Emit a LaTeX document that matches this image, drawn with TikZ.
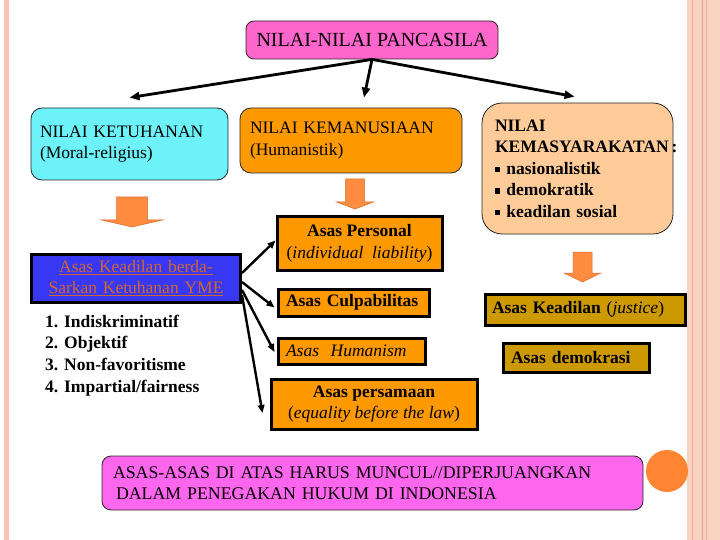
\documentclass[tikz,border=0pt]{standalone}
\usepackage{fontspec}
\setmainfont{Liberation Serif}
\usetikzlibrary{arrows.meta,calc}
\definecolor{pinktop}{HTML}{FF66CC}
\definecolor{pinkbot}{HTML}{FF66EE}
\definecolor{cyanbox}{HTML}{6CF2F8}
\definecolor{orangebox}{HTML}{FF9900}
\definecolor{peach}{HTML}{FFCC99}
\definecolor{goldbox}{HTML}{CC9900}
\definecolor{bluebox}{HTML}{3838F2}
\definecolor{ulcolor}{HTML}{D0662E}
\definecolor{barrowc}{HTML}{FF8C40}
\definecolor{barrowd}{HTML}{D86A2A}
\definecolor{circc}{HTML}{FF8533}
\definecolor{stripe}{HTML}{F7C6B0}
\definecolor{band}{HTML}{FAD2C2}
\definecolor{bandline}{HTML}{F0B096}
\definecolor{bandline2}{HTML}{E89C7C}
\newcommand{\sqbul}{\raisebox{0.12em}{\rule{0.3em}{0.3em}}\hspace{0.35em}}
\newcommand{\blockarr}[6]{%
  \filldraw[barrowstyle] (#1-#2,#3) -- (#1+#2,#3) -- (#1+#2,#4) -- (#1+#5,#4) -- (#1,#6) -- (#1-#5,#4) -- (#1-#2,#4) -- cycle;}
\begin{document}
\begin{tikzpicture}[x=1pt,y=-1pt,
  txt/.style={font=\fontsize{17.5}{21.5}\selectfont},
  rbox/.style={txt, draw=black!85, line width=0.8pt, rounded corners=11pt, inner ysep=0pt, align=left},
  sbox/.style={txt, draw=black, line width=3pt, inner ysep=0pt},
  conn/.style={line width=2.8pt, -{Triangle[length=10pt,width=8pt]}},
  link/.style={line width=2.4pt, -{Triangle[length=8pt,width=6.5pt]}},
  barrowstyle/.style={fill=barrowc, draw=barrowd, line width=0.5pt}
]
\useasboundingbox (0,0) rectangle (720,540);
\fill[white] (0,0) rectangle (720,540);
% side decorations
\fill[stripe] (4,0) rectangle (9,540);
\fill[band] (687,0) rectangle (720,540);
\draw[bandline, line width=1.2pt] (692.5,0) -- (692.5,540);
\draw[bandline2, line width=0.9pt] (702.5,0) -- (702.5,540);
\draw[bandline, line width=0.9pt] (706,0) -- (706,540);

% boxes
\node[rbox, fill=pinktop, rounded corners=8pt, minimum width=252pt, minimum height=38pt, align=center, font=\fontsize{20}{22}\selectfont] (top) at (372,40) {NILAI-NILAI PANCASILA};

\node[rbox, fill=cyanbox, text width=179pt, inner xsep=9pt, minimum height=72pt] (tuhan) at (129.5,144) {NILAI KETUHANAN\\(Moral-religius)};

\node[rbox, fill=orangebox, text width=202pt, inner xsep=10pt, minimum height=65pt] (manusia) at (351,140.5) {NILAI KEMANUSIAAN\\(Humanistik)};

\node[rbox, fill=peach, rounded corners=20pt, text width=165pt, inner xsep=13pt, minimum height=131pt, font=\fontsize{17.5}{21.5}\selectfont\bfseries] (masy) at (577.5,168.5) {NILAI\\\makebox[\linewidth][l]{KEMASYARAKATAN\,:}\\\sqbul nasionalistik\\\sqbul demokratik\\\sqbul keadilan sosial};

\node[sbox, fill=bluebox, text width=209pt, inner xsep=0pt, align=center, minimum height=48pt, text=ulcolor] (adil) at (136,278) {\underline{Asas Keadilan berda-}\\\underline{Sarkan Ketuhanan YME}};

\node[txt, font=\fontsize{17.5}{21.6}\selectfont\bfseries, align=left, inner sep=0pt, anchor=west] (list) at (45,355.5) {\makebox[19pt][l]{1.}Indiskriminatif\\\makebox[19pt][l]{2.}Objektif\\\makebox[19pt][l]{3.}Non-favoritisme\\\makebox[19pt][l]{4.}Impartial/fairness};

\node[sbox, fill=orangebox, minimum width=165pt, minimum height=53pt, align=center] (personal) at (359.5,243.5) {\textbf{Asas Personal}\\(\textit{individual\ \ liability})};

\node[sbox, fill=orangebox, text width=135pt, inner xsep=8pt, minimum height=27pt, align=left, font=\fontsize{17.5}{21.5}\selectfont\bfseries] (culpa) at (353.5,302.5) {Asas Culpabilitas};

\node[sbox, fill=orangebox, text width=131pt, inner xsep=8pt, minimum height=26pt, align=left] (human) at (351.5,351) {\textit{Asas\ \ Humanism}};

\node[sbox, fill=orangebox, minimum width=206pt, minimum height=50pt, align=center] (sama) at (374,404) {\textbf{Asas persamaan}\\(\textit{equality before the law})};

\node[sbox, fill=goldbox, text width=186pt, inner xsep=7pt, minimum height=31pt, align=left] (justice) at (585,309.5) {\textbf{Asas Keadilan} (\textit{justice})};

\node[sbox, fill=goldbox, text width=130pt, inner xsep=8pt, minimum height=29pt, align=left] (demo) at (576,357.5) {\textbf{Asas demokrasi}};

\node[rbox, fill=pinkbot, rounded corners=9pt, text width=519pt, inner xsep=11pt, minimum height=54pt, font=\fontsize{17.8}{21.5}\selectfont] (bottom) at (372.5,483) {ASAS-ASAS DI ATAS HARUS MUNCUL//DIPERJUANGKAN\\\hspace{3pt}DALAM PENEGAKAN HUKUM DI INDONESIA};

\node[circle, fill=circc, minimum size=42pt, inner sep=0pt] (dot) at (667,471) {};

% block arrows
\blockarr{132}{15.5}{197}{220}{30.5}{227}
\blockarr{355}{9.5}{179}{202}{18.5}{209}
\blockarr{582.5}{9.5}{252}{273}{18.5}{282}

% connectors
\draw[conn] (top.south) -- ([yshift=10pt]tuhan.north);
\draw[conn] (top.south) -- ([xshift=13pt,yshift=10pt]manusia.north);
\draw[conn] (top.south) -- ([xshift=-3pt,yshift=6pt]masy.north);

\draw[link] ([yshift=5pt]adil.east) -- ([yshift=3pt]personal.west);
\draw[link] ([yshift=-4pt]adil.east) -- ([xshift=-2pt,yshift=-5pt]culpa.west);
\draw[link] ([yshift=-12pt]adil.east) -- ([xshift=-2pt,yshift=-1pt]human.west);
\draw[link] ([yshift=-17pt]adil.east) -- ([xshift=-7pt,yshift=-9pt]sama.west);
\end{tikzpicture}
\end{document}
